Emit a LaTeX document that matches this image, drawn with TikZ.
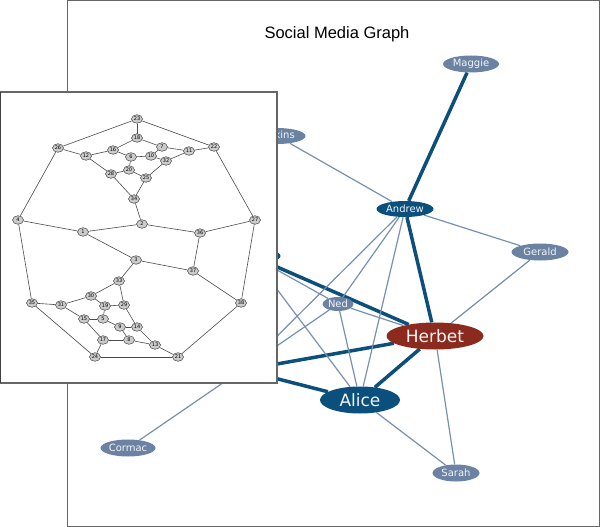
\documentclass[tikz,border=0pt]{standalone}
\usepackage{fontspec}
\setmainfont{DejaVu Sans}
\newfontfamily\titlefont{Liberation Sans}
\usetikzlibrary{shapes.geometric,backgrounds}
\pgfdeclarelayer{bottom}
\pgfsetlayers{bottom,background,main}
\definecolor{lightnode}{HTML}{6B82A3}
\definecolor{darknode}{HTML}{0B4F7C}
\definecolor{rednode}{HTML}{8C2A1E}
\definecolor{thinedge}{HTML}{7890B0}
\definecolor{thickedge}{HTML}{0D4F7B}
\definecolor{panelline}{HTML}{666666}
\tikzset{
  person/.style={ellipse, inner sep=0pt, text=white!92!lightnode, font=\fontsize{10}{10}\selectfont},
  lightp/.style={person, fill=lightnode},
  darkp/.style={person, fill=darknode},
  redp/.style={person, fill=rednode},
  bigp/.style={font=\fontsize{17}{17}\selectfont, minimum height=27pt},
  thinE/.style={draw=thinedge, line width=1.2pt},
  thickE/.style={draw=thickedge, line width=3.5pt},
  vert/.style={ellipse, draw=black!75, fill=black!20, line width=0.5pt, inner sep=0pt,
    minimum width=11pt, minimum height=8.5pt, font=\fontsize{5}{5}\selectfont},
  gedge/.style={draw=black!70, line width=0.6pt},
  panel/.style={draw=panelline, fill=white},
}
\begin{document}
\begin{tikzpicture}[x=1pt,y=-1pt]
\useasboundingbox (0,0) rectangle (600,527);
% back panel
\begin{pgfonlayer}{bottom}
\draw[panel, line width=1.5pt] (67.5,0.75) rectangle (599.25,526.25);
\end{pgfonlayer}
\node[font=\titlefont\fontsize{16.5}{16.5}\selectfont] (title) at (337,34) {Social Media Graph};
% people
\node[lightp, minimum width=56pt, minimum height=17pt] (maggie) at (471,64) {Maggie};
\node[darkp, minimum width=57pt, minimum height=16pt] (andrew) at (405,209) {Andrew};
\node[lightp, minimum width=57pt, minimum height=17pt] (gerald) at (540,252) {Gerald};
\node[lightp, minimum width=57pt, minimum height=16pt] (jenkins) at (277,136) {Jenkins};
\node[lightp, minimum width=31pt, minimum height=14pt] (ned) at (338,304) {Ned};
\node[redp, bigp, minimum width=97pt] (herbet) at (435,336) {Herbet};
\node[darkp, bigp, minimum width=80pt] (alice) at (360,400) {Alice};
\node[lightp, minimum width=55pt, minimum height=17pt] (cormac) at (128,448) {Cormac};
\node[lightp, minimum width=47pt, minimum height=17pt] (sarah) at (456,473) {Sarah};
\node[darkp, minimum width=57pt, minimum height=16pt] (bob) at (252,256) {Bob};
\node[darkp, minimum width=57pt, minimum height=16pt] (dan) at (243,370) {Dan};
% edges
\begin{pgfonlayer}{background}
\draw[thickE] (maggie) -- (andrew);
\draw[thickE] (andrew) -- (herbet);
\draw[thickE] (bob) -- (herbet);
\draw[thickE] (dan) -- (herbet);
\draw[thickE] (dan) -- (alice);
\draw[thickE] (herbet) -- (alice);
\draw[thinE] (jenkins) -- (andrew);
\draw[thinE] (andrew) -- (gerald);
\draw[thinE] (gerald) -- (herbet);
\draw[thinE] (andrew) -- (alice);
\draw[thinE] (andrew) -- (ned);
\draw[thinE] (andrew) -- (dan);
\draw[thinE] (bob) -- (ned);
\draw[thinE] (bob) -- (alice);
\draw[thinE] (ned) -- (herbet);
\draw[thinE] (ned) -- (alice);
\draw[thinE] (cormac) -- (ned);
\draw[thinE] (herbet) -- (sarah);
\draw[thinE] (alice) -- (sarah);
\end{pgfonlayer}
% front panel
\draw[panel, line width=1.3pt] (0.65,92) rectangle (277,383);
\draw[draw=black!75, line width=1.3pt] (0.65,92) -- (0.65,383);
% graph vertices
\node[vert] (v23) at (137,119) {23};
\node[vert] (v18) at (137,138) {18};
\node[vert] (v26) at (58,148) {26};
\node[vert] (v12) at (86,156) {12};
\node[vert] (v16) at (113,150) {16};
\node[vert] (v7) at (162,147) {7};
\node[vert] (v11) at (189,151) {11};
\node[vert] (v22) at (214,147) {22};
\node[vert] (v6) at (131,157) {6};
\node[vert] (v10) at (151,156) {10};
\node[vert] (v32) at (166,161) {32};
\node[vert] (v28) at (111,174) {28};
\node[vert] (v20) at (129,170) {20};
\node[vert] (v25) at (146,178) {25};
\node[vert] (v34) at (134,199) {34};
\node[vert] (v4) at (18,220) {4};
\node[vert] (v27) at (255,220) {27};
\node[vert] (v1) at (83,232) {1};
\node[vert] (v2) at (142,224) {2};
\node[vert] (v36) at (200,233) {36};
\node[vert] (v3) at (136,260) {3};
\node[vert] (v37) at (193,271) {37};
\node[vert] (v33) at (119,281) {33};
\node[vert] (v30) at (91,296) {30};
\node[vert] (v35) at (32,303) {35};
\node[vert] (v31) at (61,305) {31};
\node[vert] (v19) at (105,306) {19};
\node[vert] (v29) at (124,305) {29};
\node[vert] (v38) at (241,303) {38};
\node[vert] (v15) at (84,319) {15};
\node[vert] (v5) at (103,319) {5};
\node[vert] (v9) at (120,327) {9};
\node[vert] (v14) at (137,327) {14};
\node[vert] (v17) at (103,340) {17};
\node[vert] (v8) at (129,340) {8};
\node[vert] (v13) at (155,345) {13};
\node[vert] (v24) at (95,357) {24};
\node[vert] (v21) at (178,357) {21};
\foreach \a/\b in {23/18,23/26,23/22,18/16,18/7,26/12,26/4,12/16,12/28,16/6,7/11,7/10,11/22,11/32,
  6/10,6/20,10/32,32/25,28/20,28/34,20/25,25/34,34/2,22/27,4/1,4/35,1/2,1/3,2/36,36/27,36/37,
  3/37,3/33,37/38,27/38,33/30,33/29,30/31,30/19,35/31,35/24,31/15,19/29,19/5,29/14,15/5,15/17,
  5/9,9/14,9/8,14/13,17/8,17/24,8/13,13/21,24/21,21/38}
  \draw[gedge] (v\a) -- (v\b);
\end{tikzpicture}
\end{document}
